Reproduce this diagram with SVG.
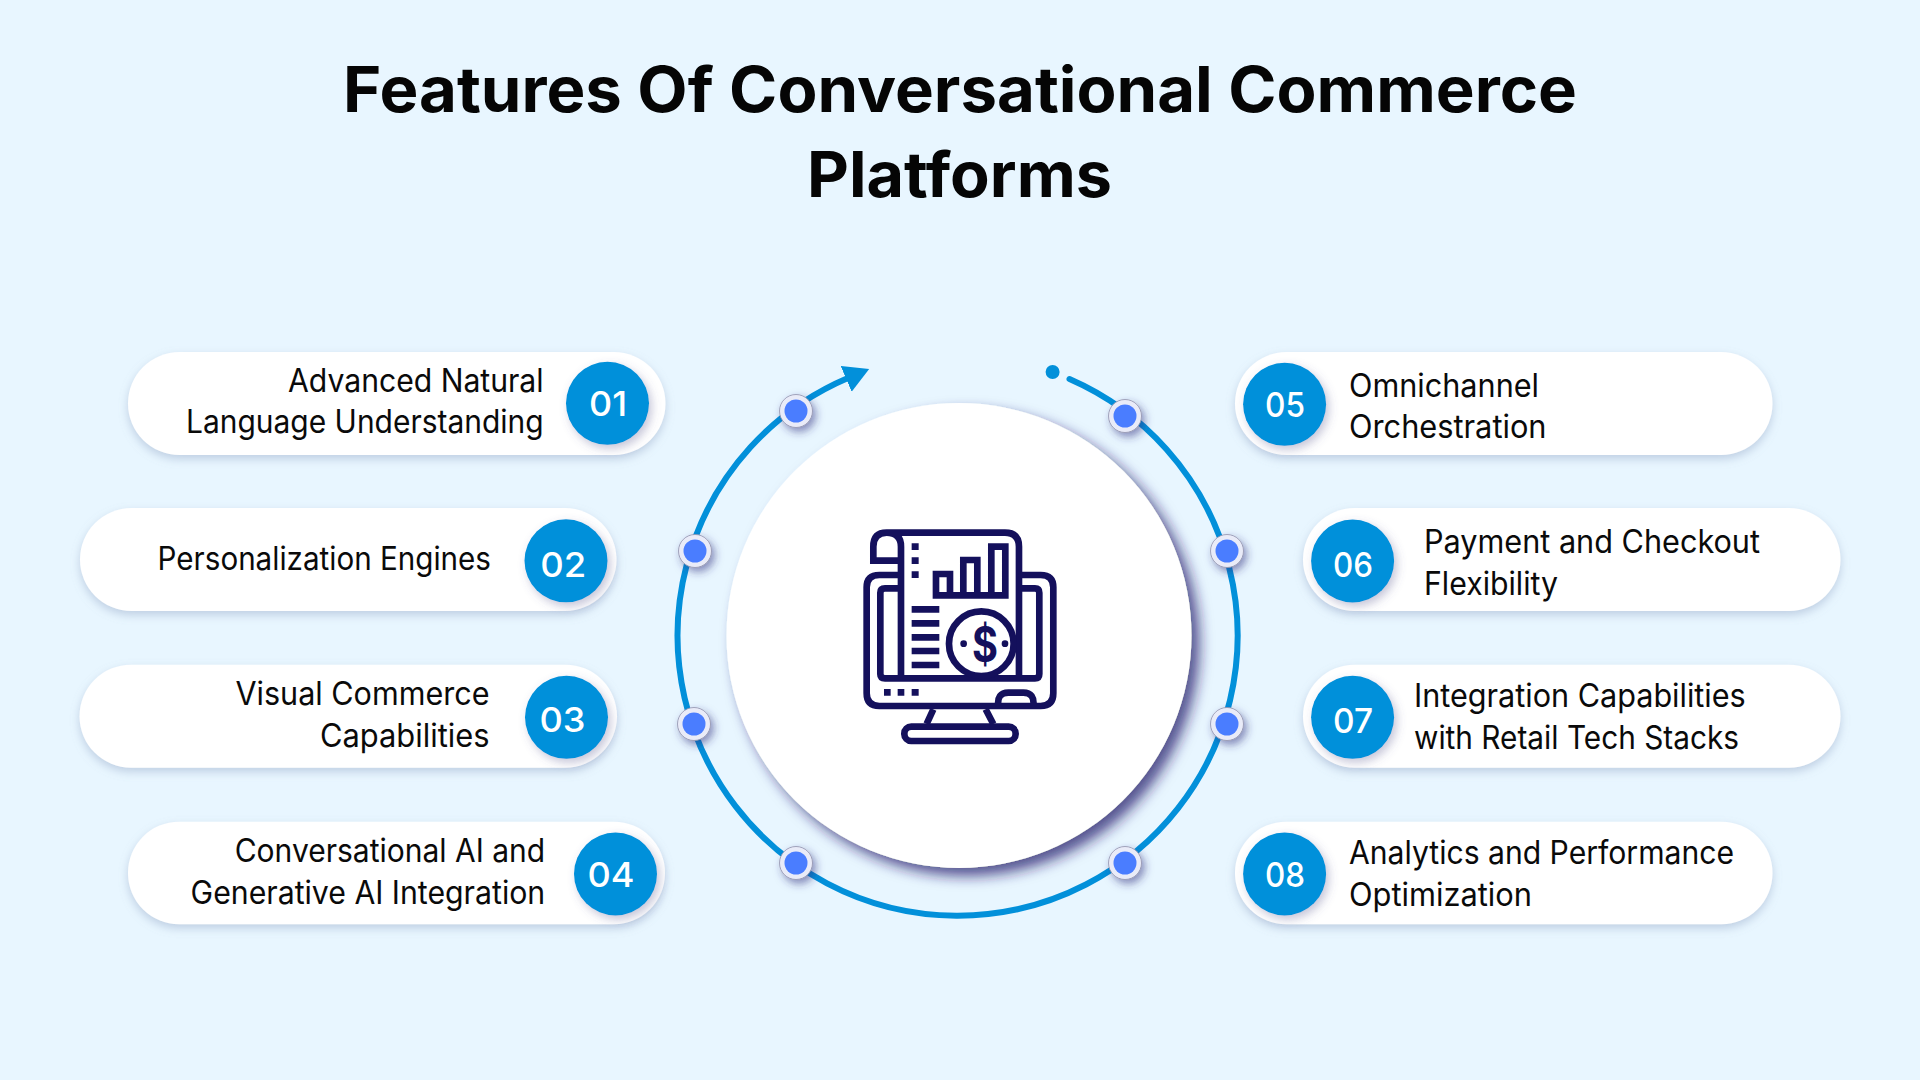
<svg xmlns="http://www.w3.org/2000/svg" width="1920" height="1080" viewBox="0 0 1920 1080">
<style>
text{font-family:"Inter","Liberation Sans",sans-serif}
.title{font-size:63px;font-weight:700;fill:#050505}
.lbl{font-size:32px;font-weight:400;fill:#0a0a0a;transform:translateY(1.2px)}
.num{font-size:34px;font-weight:500;fill:#fff;text-anchor:middle}
.pill{fill:#fff;filter:url(#ps)}
.nc{fill:#0290da;filter:url(#ns)}
.dot{fill:#e9ebf8;stroke:#8f91ad;stroke-width:.8;filter:url(#ds)}
.din{fill:#4a7dff}
.ic{fill:none;stroke:#14105c;stroke-width:20}
.if{fill:#14105c}
</style>
<defs>
<filter id="ps" x="-10%" y="-30%" width="120%" height="170%"><feDropShadow dx="0" dy="4" stdDeviation="5" flood-color="#7f93b8" flood-opacity=".4"/></filter>
<filter id="ns" x="-30%" y="-30%" width="170%" height="170%"><feDropShadow dx="3" dy="4" stdDeviation="5" flood-color="#5a5a90" flood-opacity=".35"/></filter>
<filter id="ds" x="-50%" y="-50%" width="220%" height="220%"><feDropShadow dx="3" dy="4" stdDeviation="4" flood-color="#33337f" flood-opacity=".55"/></filter>
<filter id="cs" x="-15%" y="-15%" width="130%" height="130%"><feDropShadow dx="8" dy="8" stdDeviation="7" flood-color="#231f6b" flood-opacity=".75"/></filter>
<marker id="arr" markerUnits="userSpaceOnUse" markerWidth="30" markerHeight="32" refX="2" refY="14" orient="auto"><path d="M0 0L25 14L0 28Z" fill="#0290da"/></marker>
</defs>
<rect width="1920" height="1080" fill="#e8f6ff"/>
<g id="title"><text class="title" x="343" y="112" textLength="1234" lengthAdjust="spacingAndGlyphs">Features Of Conversational Commerce</text><text class="title" x="807" y="197" textLength="305" lengthAdjust="spacingAndGlyphs">Platforms</text></g>
<g id="connectors"><path d="M1069.5 379A280 280 0 1 1 848 378" fill="none" stroke="#0290da" stroke-width="6" stroke-linecap="round" marker-end="url(#arr)"/><circle cx="1052.6" cy="372" r="7" fill="#0290da"/></g>
<g id="hub"><circle cx="959" cy="635.500" r="232.500" fill="#fff" filter="url(#cs)"/>
<g id="icon" transform="translate(820 500) scale(.3333)">
<path class="ic" d="M243 535V140Q243 98 200 98Q160 98 160 140V182H243M200 98H555Q597 98 597 140V525"/>
<path class="ic" d="M243 225H178Q140 225 140 262V580Q140 618 178 618H662Q700 618 700 580V262Q700 225 662 225H597"/>
<path class="ic" d="M243 265H195Q181 265 181 278V522Q181 535 195 535H645Q658 535 658 522V278Q658 265 645 265H597"/>
<path class="ic" d="M348 285V222H390V285M430 285V180H472V285M514 285V140H556V285M338 286H566"/>
<path class="if" d="M275 130h21v20h-21zM275 172h21v20h-21zM275 214h21v20h-21zM275 318h83v20h-83zM275 360h83v20h-83zM275 402h83v20h-83zM275 443h83v20h-83zM275 485h83v20h-83zM192 567h20v20h-20zM233 567h20v20h-20zM275 567h21v20h-21z"/>
<circle cx="484" cy="431" r="97" fill="#fff" stroke="#14105c" stroke-width="20"/>
<circle class="if" cx="431" cy="431" r="10"/><circle class="if" cx="555" cy="431" r="10"/>
<text x="456" y="485" font-size="150" font-weight="700" fill="#14105c" textLength="78" lengthAdjust="spacingAndGlyphs">$</text>
<path class="ic" d="M535 618Q530 578 565 578H610Q645 578 640 618M340 628L320 672M497 628L520 672"/>
<rect class="ic" x="253" y="680" width="334" height="43" rx="21"/>
</g></g>
<g id="dots">
<g><circle class="dot" cx="796" cy="411" r="16.500"/><circle class="din" cx="796" cy="411" r="11.500"/></g>
<g><circle class="dot" cx="1125" cy="416" r="16.500"/><circle class="din" cx="1125" cy="416" r="11.500"/></g>
<g><circle class="dot" cx="695" cy="551" r="16.500"/><circle class="din" cx="695" cy="551" r="11.500"/></g>
<g><circle class="dot" cx="1227" cy="551" r="16.500"/><circle class="din" cx="1227" cy="551" r="11.500"/></g>
<g><circle class="dot" cx="694" cy="724" r="16.500"/><circle class="din" cx="694" cy="724" r="11.500"/></g>
<g><circle class="dot" cx="1227" cy="724" r="16.500"/><circle class="din" cx="1227" cy="724" r="11.500"/></g>
<g><circle class="dot" cx="796" cy="863" r="16.500"/><circle class="din" cx="796" cy="863" r="11.500"/></g>
<g><circle class="dot" cx="1125" cy="863" r="16.500"/><circle class="din" cx="1125" cy="863" r="11.500"/></g>
</g>
<g id="node-01"><rect class="pill" x="128" y="352" width="537.500" height="103" rx="51.500"/><circle class="nc" cx="607.500" cy="403.300" r="41.500"/><text class="num" x="608" y="415.500" textLength="38" lengthAdjust="spacingAndGlyphs">01</text><text class="lbl" x="288" y="390.700" textLength="255.600" lengthAdjust="spacingAndGlyphs">Advanced Natural</text><text class="lbl" x="186" y="432.300" textLength="357.600" lengthAdjust="spacingAndGlyphs">Language Understanding</text></g>
<g id="node-02"><rect class="pill" x="80" y="508" width="536.500" height="103" rx="51.500"/><circle class="nc" cx="566" cy="560.800" r="41.500"/><text class="num" x="563.300" y="576.500" textLength="46" lengthAdjust="spacingAndGlyphs">02</text><text class="lbl" x="157.600" y="569.300" textLength="333.400" lengthAdjust="spacingAndGlyphs">Personalization Engines</text></g>
<g id="node-03"><rect class="pill" x="79.500" y="664.700" width="537.500" height="103" rx="51.500"/><circle class="nc" cx="566.500" cy="717.300" r="41.500"/><text class="num" x="562.500" y="731.700" textLength="46" lengthAdjust="spacingAndGlyphs">03</text><text class="lbl" x="235.500" y="704" textLength="254" lengthAdjust="spacingAndGlyphs">Visual Commerce</text><text class="lbl" x="320" y="746" textLength="169.500" lengthAdjust="spacingAndGlyphs">Capabilities</text></g>
<g id="node-04"><rect class="pill" x="128" y="821.700" width="537" height="102.500" rx="51"/><circle class="nc" cx="615.500" cy="874" r="41.500"/><text class="num" x="611" y="886.700" textLength="47" lengthAdjust="spacingAndGlyphs">04</text><text class="lbl" x="234.700" y="861" textLength="310.500" lengthAdjust="spacingAndGlyphs">Conversational AI and</text><text class="lbl" x="190.600" y="903" textLength="354.600" lengthAdjust="spacingAndGlyphs">Generative AI Integration</text></g>
<g id="node-05"><rect class="pill" x="1235" y="352" width="537.500" height="103" rx="51.500"/><circle class="nc" cx="1284.600" cy="404.300" r="41.500"/><text class="num" x="1285" y="416.500" textLength="40" lengthAdjust="spacingAndGlyphs">05</text><text class="lbl" x="1349" y="395.500" textLength="190" lengthAdjust="spacingAndGlyphs">Omnichannel</text><text class="lbl" x="1349" y="437" textLength="197.500" lengthAdjust="spacingAndGlyphs">Orchestration</text></g>
<g id="node-06"><rect class="pill" x="1303" y="508" width="537.500" height="103" rx="51.500"/><circle class="nc" cx="1352.600" cy="561" r="41.500"/><text class="num" x="1353" y="576.500" textLength="40" lengthAdjust="spacingAndGlyphs">06</text><text class="lbl" x="1424" y="552" textLength="336" lengthAdjust="spacingAndGlyphs">Payment and Checkout</text><text class="lbl" x="1424" y="594" textLength="134" lengthAdjust="spacingAndGlyphs">Flexibility</text></g>
<g id="node-07"><rect class="pill" x="1303" y="664.700" width="537.500" height="103" rx="51.500"/><circle class="nc" cx="1352.600" cy="717.300" r="41.500"/><text class="num" x="1353" y="732.700" textLength="40" lengthAdjust="spacingAndGlyphs">07</text><text class="lbl" x="1414" y="706" textLength="331.700" lengthAdjust="spacingAndGlyphs">Integration Capabilities</text><text class="lbl" x="1414" y="747.700" textLength="325" lengthAdjust="spacingAndGlyphs">with Retail Tech Stacks</text></g>
<g id="node-08"><rect class="pill" x="1235" y="821.700" width="537.500" height="102.500" rx="51"/><circle class="nc" cx="1284.600" cy="874" r="41.500"/><text class="num" x="1285" y="887.300" textLength="40" lengthAdjust="spacingAndGlyphs">08</text><text class="lbl" x="1349" y="863.300" textLength="385" lengthAdjust="spacingAndGlyphs">Analytics and Performance</text><text class="lbl" x="1349" y="905" textLength="183" lengthAdjust="spacingAndGlyphs">Optimization</text></g>
</svg>
